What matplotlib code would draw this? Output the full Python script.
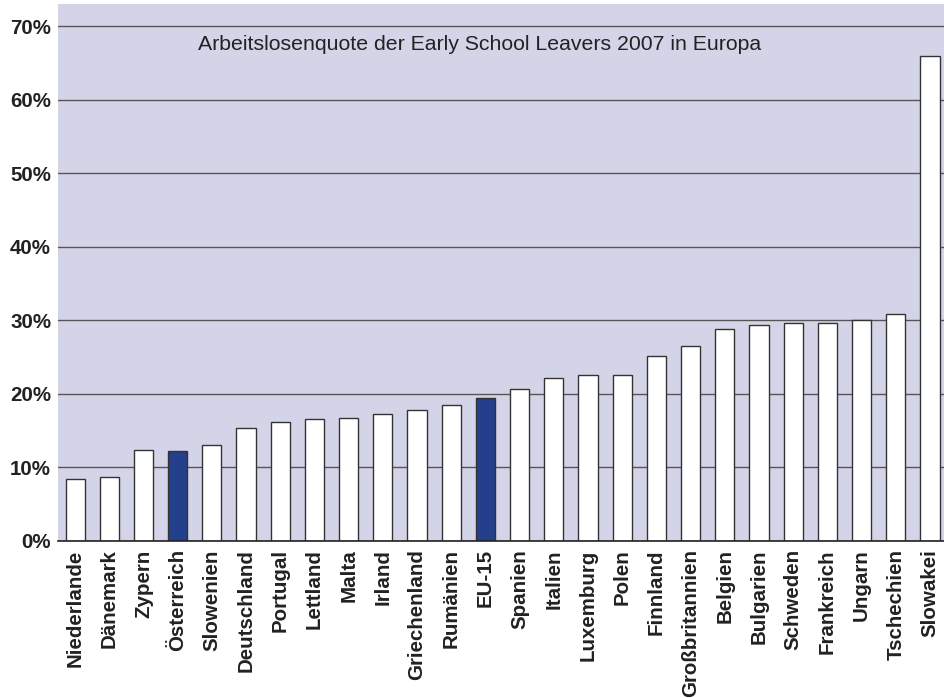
import matplotlib
matplotlib.use('Agg')
import matplotlib.pyplot as plt
from matplotlib.ticker import FuncFormatter

plt.rcParams['font.family'] = ['Liberation Sans', 'DejaVu Sans']

laender = ['Niederlande', 'Dänemark', 'Zypern', 'Österreich', 'Slowenien', 'Deutschland',
           'Portugal', 'Lettland', 'Malta', 'Irland', 'Griechenland', 'Rumänien', 'EU-15',
           'Spanien', 'Italien', 'Luxemburg', 'Polen', 'Finnland', 'Großbritannien', 'Belgien',
           'Bulgarien', 'Schweden', 'Frankreich', 'Ungarn', 'Tschechien', 'Slowakei']
quote = [8.4, 8.7, 12.4, 12.3, 13.0, 15.4, 16.2, 16.6, 16.7, 17.3, 17.8, 18.5, 19.4,
         20.7, 22.1, 22.5, 22.6, 25.2, 26.5, 28.8, 29.3, 29.6, 29.7, 30.1, 30.8, 65.9]
hervorheben = ['Österreich', 'EU-15']

farben = ['#243f8c' if l in hervorheben else 'white' for l in laender]

fig = plt.figure(figsize=(9.45, 6.98), dpi=100)
ax = fig.add_axes([58/945, 1-541/698, 1-58/945, 537/698])
ax.set_facecolor('#d4d4e8')
ax.bar(range(len(laender)), quote, width=0.56, color=farben, edgecolor='#333333',
       linewidth=1.0, zorder=3)
ax.set_xlim(-0.5, 25.44)
ax.set_ylim(0, 73)
ax.set_yticks(range(0, 71, 10))
ax.yaxis.set_major_formatter(FuncFormatter(lambda v, p: '%d%%' % v))
ax.grid(axis='y', color='#555555', linewidth=1.0, zorder=1)
ax.set_axisbelow(True)
for s in ['top', 'right', 'left']:
    ax.spines[s].set_visible(False)
ax.spines['bottom'].set_color('#222222')
ax.spines['bottom'].set_linewidth(1.2)
ax.spines['bottom'].set_zorder(4)
ax.set_xticks(range(len(laender)))
ax.set_xticklabels(laender, rotation=90, fontsize=14.8, fontweight='bold', color='#222222')
ax.tick_params(axis='x', length=0, pad=6)
ax.tick_params(axis='y', length=0, pad=5)
for t in ax.get_yticklabels():
    t.set_fontsize(14.8)
    t.set_fontweight('bold')
    t.set_color('#222222')
ax.text(0.475, 0.924, 'Arbeitslosenquote der Early School Leavers 2007 in Europa',
        transform=ax.transAxes, ha='center', va='center', fontsize=15.3, color='#222222')

fig.savefig('out.png', dpi=100)
